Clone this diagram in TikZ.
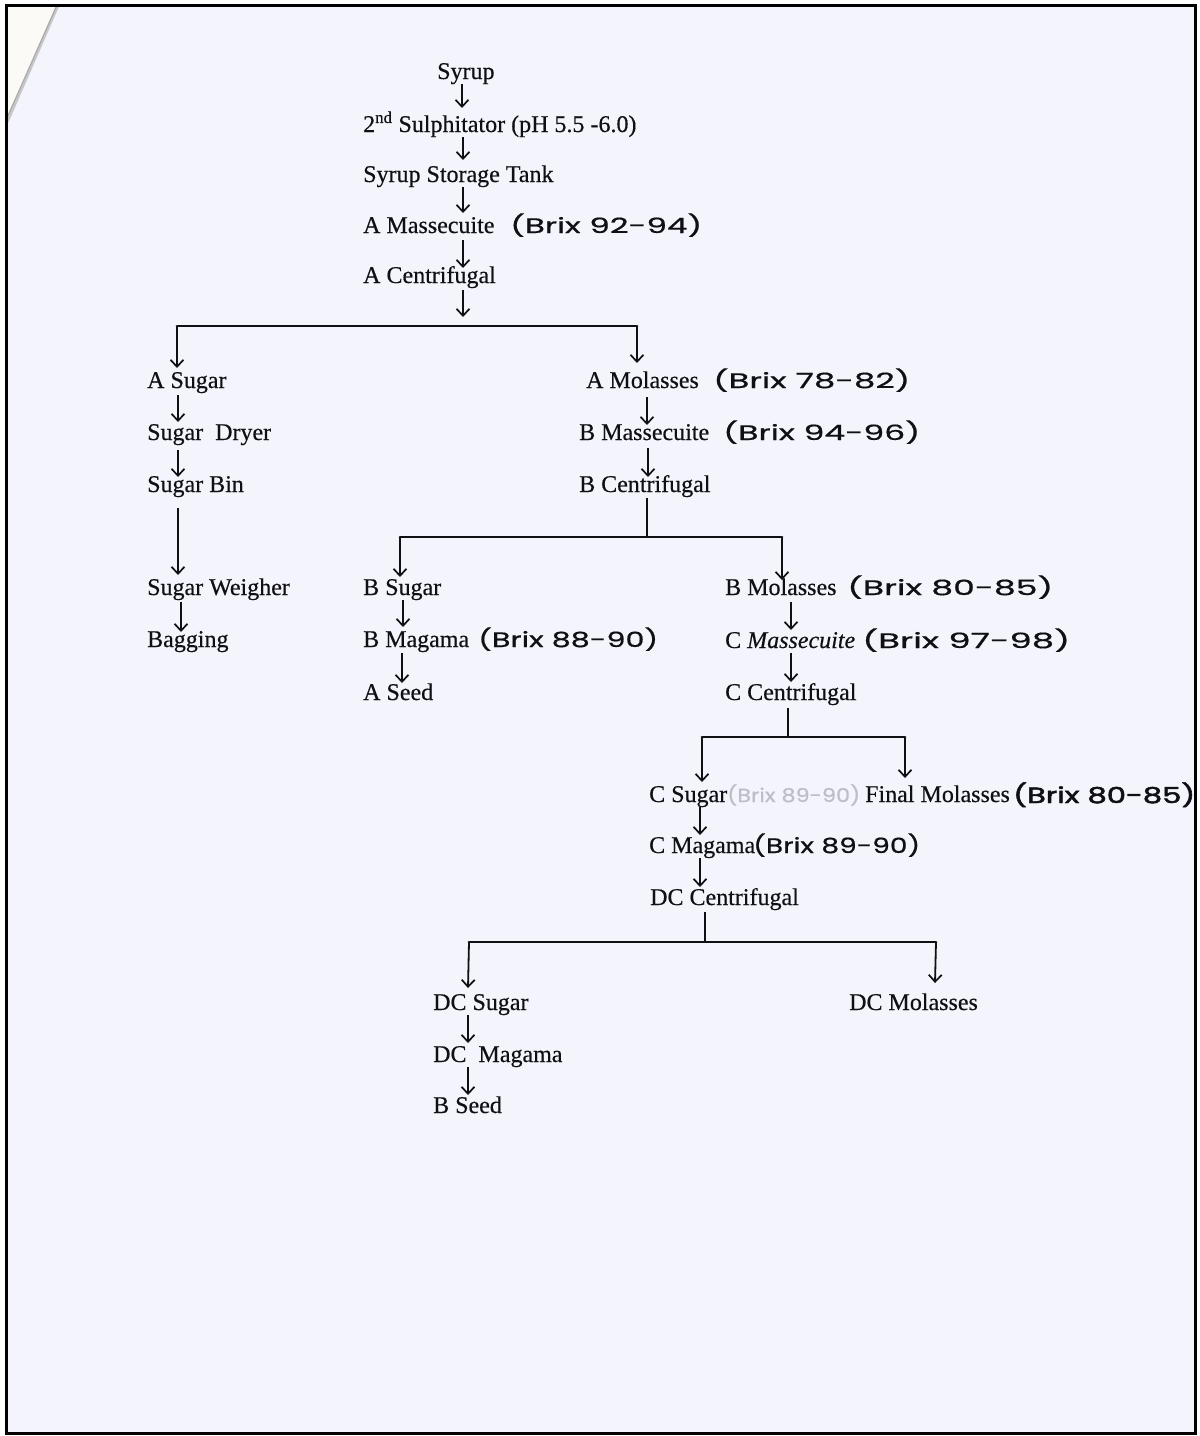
\documentclass[tikz,border=0pt]{standalone}
\usepackage{fontspec}
\usepackage{graphicx}
\setmainfont[FakeBold=0.4]{Liberation Serif}
\newfontfamily\hand[FakeBold=0.6]{Poppins}
\newfontfamily\handbold[FakeBold=2]{Poppins}
\usetikzlibrary{arrows.meta}
\definecolor{paper}{RGB}{243,244,252}
\definecolor{ink}{RGB}{15,15,20}
\definecolor{faint}{RGB}{190,190,200}
\newcommand\hn[2]{\resizebox{#1}{\height}{#2}}
\begin{document}
\begin{tikzpicture}[x=1pt,y=-1pt,
  txt/.style={anchor=base west, inner sep=0pt, font=\fontsize{24}{28}\selectfont, text=ink},
  hnd/.style={anchor=base west, inner sep=0pt, font=\hand\fontsize{21}{24}\selectfont, text=ink},
  arr/.style={draw=ink, line width=1.8pt, -{Straight Barb[length=7pt,width=13pt,line width=1.7pt]}},
  link/.style={draw=ink, line width=1.8pt},
  bar/.style={draw=ink, line width=2.8pt, line cap=round}]
% paper and frame
\fill[white] (0,0) rectangle (1200,1436);
\fill[paper] (6,5) rectangle (1195,1433);
\fill[white!96!brown] (6,5) -- (58,5) -- (7,122) -- cycle;
\draw[gray!45, line width=3pt] (58,5) -- (7,122);
\draw[gray!70, line width=1pt] (57,5) -- (6,120);
\draw[black, line width=3pt] (6,5) rectangle (1195,1433);
\useasboundingbox (0,0) rectangle (1200,1436);

% junction coordinates
\coordinate (jA)  at (463,326);
\coordinate (jL1) at (177,326);
\coordinate (jR1) at (637,326);
\coordinate (jB)  at (647,537);
\coordinate (jBL) at (400,537);
\coordinate (jBR) at (782,537);
\coordinate (jC)  at (788,737);
\coordinate (jCL) at (702,737);
\coordinate (jCR) at (905,737);
\coordinate (jD)  at (705,942);
\coordinate (jDL) at (469,942);
\coordinate (jDR) at (936,942);

% main column
\node[txt] (syrup) at (437,79) {Syrup};
\node[txt] (sulph) at (363,132) {2\textsuperscript{nd} Sulphitator (pH 5.5 -6.0)};
\node[txt] (tank)  at (363,182) {Syrup Storage Tank};
\node[txt] (amass) at (363,233) {A Massecuite};
\node[txt] (acent) at (363,283) {A Centrifugal};
% A branch
\node[txt] (asug)  at (147,388) {A Sugar};
\node[txt] (dryer) at (147,440) {Sugar\ \ Dryer};
\node[txt] (bin)   at (147,492) {Sugar Bin};
\node[txt] (weigh) at (147,595) {Sugar Weigher};
\node[txt] (bag)   at (147,647) {Bagging};
\node[txt] (amol)  at (586,388) {A Molasses};
\node[txt] (bmass) at (579,440) {B Massecuite};
\node[txt] (bcent) at (579,492) {B Centrifugal};
% B branch
\node[txt] (bsug)  at (363,595) {B Sugar};
\node[txt] (bmag)  at (363,647) {B Magama};
\node[txt] (aseed) at (363,700) {A Seed};
\node[txt] (bmol)  at (725,595) {B Molasses};
\node[txt] (cmass) at (725,648) {C \textit{Massecuite}};
\node[txt] (ccent) at (725,700) {C Centrifugal};
% C branch
\node[txt] (csug)  at (649,802) {C Sugar};
\node[txt] (fmol)  at (865,802) {Final Molasses};
\node[txt] (cmag)  at (649,853) {C Magama};
\node[txt] (dccent) at (650,905) {DC Centrifugal};
% DC branch
\node[txt] (dcsug) at (433,1010) {DC Sugar};
\node[txt] (dcmol) at (849,1010) {DC Molasses};
\node[txt] (dcmag) at (433,1062) {DC\ \ Magama};
\node[txt] (bseed) at (433,1113) {B Seed};

% handwritten notes
\node[hnd] (h1) at (510,233) {\hn{192pt}{(Brix 92-94)}};
\node[hnd] (h2) at (713,388) {\hn{197pt}{(Brix 78-82)}};
\node[hnd] (h3) at (723,440) {\hn{197pt}{(Brix 94-96)}};
\node[hnd] (h4) at (847,595) {\hn{206pt}{(Brix 80-85)}};
\node[hnd] (h5) at (478,647) {\hn{180pt}{(Brix 88-90)}};
\node[hnd] (h6) at (862,648) {\hn{208pt}{(Brix 97-98)}};
\node[hnd, font=\handbold\fontsize{22}{25}\selectfont] (h7) at (1013,803) {\hn{182pt}{(Brix 80-85)}};
\node[hnd] (h8) at (753,853) {\hn{167pt}{(Brix 89-90)}};
\node[hnd, text=faint, font=\hand\fontsize{19}{22}\selectfont] (h9) at (727,802) {\hn{133pt}{(Brix 89-90)}};

% main column arrows
\draw[arr] ([shift={(25,5)}]syrup.base west) -- ([shift={(99,-24)}]sulph.base west);
\draw[arr] ([shift={(100,5)}]sulph.base west) -- ([shift={(100,-22)}]tank.base west);
\draw[arr] ([shift={(100,5)}]tank.base west) -- ([shift={(100,-20)}]amass.base west);
\draw[arr] ([shift={(100,7)}]amass.base west) -- ([shift={(100,-15)}]acent.base west);
\draw[arr] ([shift={(100,7)}]acent.base west) -- ([shift={(0,-9)}]jA);
% A split
\draw[bar] (jL1) -- (jR1);
\draw[arr] (jL1) -- ([shift={(30,-20)}]asug.base west);
\draw[arr] (jR1) -- ([shift={(51,-25)}]amol.base west);
% A sugar column
\draw[arr] ([shift={(31,7)}]asug.base west) -- ([shift={(31,-18)}]dryer.base west);
\draw[arr] ([shift={(31,10)}]dryer.base west) -- ([shift={(31,-15)}]bin.base west);
\draw[arr] ([shift={(31,16)}]bin.base west) -- ([shift={(31,-20)}]weigh.base west);
\draw[arr] ([shift={(34,7)}]weigh.base west) -- ([shift={(34,-15)}]bag.base west);
% A molasses column
\draw[arr] ([shift={(61,9)}]amol.base west) -- ([shift={(68,-15)}]bmass.base west);
\draw[arr] ([shift={(69,8)}]bmass.base west) -- ([shift={(69,-15)}]bcent.base west);
\draw[link] ([shift={(68,6)}]bcent.base west) -- (jB);
% B split
\draw[bar] (jBL) -- (jBR);
\draw[arr] (jBL) -- ([shift={(37,-18)}]bsug.base west);
\draw[arr] (jBR) -- ([shift={(57,-15)}]bmol.base west);
\draw[arr] ([shift={(40,5)}]bsug.base west) -- ([shift={(40,-20)}]bmag.base west);
\draw[arr] ([shift={(39,6)}]bmag.base west) -- ([shift={(39,-17)}]aseed.base west);
\draw[arr] ([shift={(66,7)}]bmol.base west) -- ([shift={(66,-18)}]cmass.base west);
\draw[arr] ([shift={(66,5)}]cmass.base west) -- ([shift={(66,-18)}]ccent.base west);
\draw[link] ([shift={(63,8)}]ccent.base west) -- (jC);
% C split
\draw[bar] (jCL) -- (jCR);
\draw[arr] (jCL) -- ([shift={(53,-20)}]csug.base west);
\draw[arr] (jCR) -- ([shift={(40,-24)}]fmol.base west);
\draw[arr] ([shift={(51,5)}]csug.base west) -- ([shift={(51,-18)}]cmag.base west);
\draw[arr] ([shift={(51,5)}]cmag.base west) -- ([shift={(50,-18)}]dccent.base west);
\draw[link] ([shift={(55,7)}]dccent.base west) -- (jD);
% DC split
\draw[bar] (jDL) -- (jDR);
\draw[arr] (jDL) -- ([shift={(35,-22)}]dcsug.base west);
\draw[arr] (jDR) -- ([shift={(86,-27)}]dcmol.base west);
\draw[arr] ([shift={(35,5)}]dcsug.base west) -- ([shift={(35,-19)}]dcmag.base west);
\draw[arr] ([shift={(35,5)}]dcmag.base west) -- ([shift={(35,-18)}]bseed.base west);
\end{tikzpicture}
\end{document}
